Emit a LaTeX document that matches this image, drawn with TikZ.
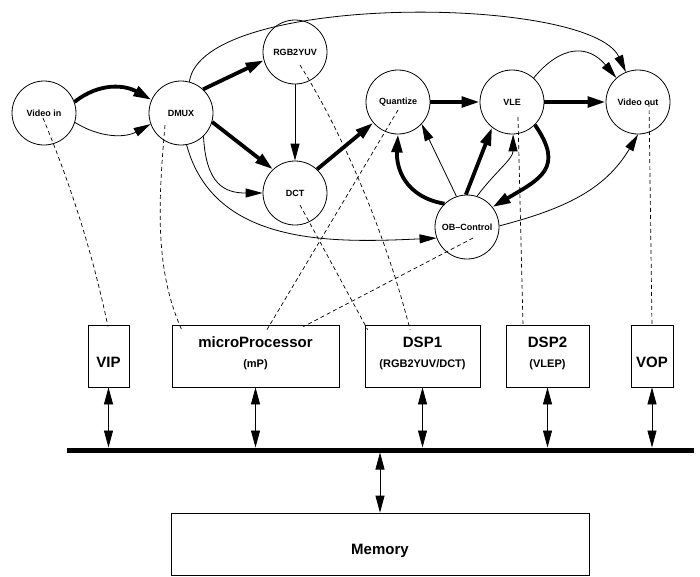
\documentclass[tikz,border=0pt]{standalone}
\usepackage{fontspec}
\setmainfont{Liberation Sans}
\usetikzlibrary{arrows.meta}
\begin{document}
\begin{tikzpicture}[x=1pt,y=-1pt,
  proc/.style={circle,draw,line width=0.8pt,minimum size=64pt,inner sep=0pt,font=\fontsize{9}{10}\selectfont\bfseries},
  hw/.style={draw,line width=0.8pt,minimum height=62pt,inner sep=0pt},
  big/.style={font=\fontsize{15}{17}\selectfont\bfseries,inner sep=0pt,anchor=base},
  small/.style={font=\fontsize{11}{13}\selectfont\bfseries,inner sep=0pt,anchor=base},
  thinarr/.style={line width=0.8pt,-{Triangle[length=17pt,width=9pt]}},
  thickarr/.style={line width=3.8pt,-{Triangle[length=18pt,width=10.5pt]}},
  mapline/.style={dash pattern=on 4pt off 3pt,line width=0.7pt},
  busarrow/.style={line width=0.8pt,{Triangle[length=17pt,width=9pt]}-{Triangle[length=17pt,width=9pt]}},
]
\useasboundingbox (0,0) rectangle (700,576);

% process nodes
\node[proc] (vin)   at (44,113)  {Video in};
\node[proc] (dmux)  at (181,113) {DMUX};
\node[proc] (rgb)   at (295,52)  {RGB2YUV};
\node[proc] (dct)   at (295,193) {DCT};
\node[proc] (quant) at (398,102) {Quantize};
\node[proc] (vle)   at (512,102) {VLE};
\node[proc] (vout)  at (638,102) {Video out};
\node[proc] (ob)    at (467,227) {OB--Control};

% hardware boxes
\node[hw,minimum width=41pt]  (vip)  at (108.5,356) {};
\node[hw,minimum width=167pt] (mp)   at (255.5,356) {};
\node[hw,minimum width=115pt] (dsp1) at (422.5,356) {};
\node[hw,minimum width=83pt]  (dsp2) at (547.5,356) {};
\node[hw,minimum width=42pt]  (vop)  at (652,356) {};
\node[hw,minimum width=418pt] (mem)  at (380,544) {};

\node[big]   (tvip)  at (108.5,367) {VIP};
\node[big]   (tmp)   at (255.5,347) {microProcessor};
\node[small] (tmp2)  at (255.5,367) {(mP)};
\node[big]   (tdsp1) at (422.5,347) {DSP1};
\node[small] (tdsp1b) at (422.5,367) {(RGB2YUV/DCT)};
\node[big]   (tdsp2) at (547.5,347) {DSP2};
\node[small] (tdsp2b) at (547.5,367) {(VLEP)};
\node[big]   (tvop)  at (652,367) {VOP};
\node[big]   (tmem)  at (380,554) {Memory};

% bus
\coordinate (busL) at (67,450);
\coordinate (busR) at (694,450);
\coordinate (busTop) at (0,447.5);
\coordinate (busBot) at (0,452.5);
\draw[line width=5pt] (busL) -- (busR);
\foreach \b in {vip,mp,dsp1,dsp2,vop}
  \draw[busarrow] (\b.south) -- (\b.south |- busTop);
\draw[busarrow] (mem.north |- busBot) -- (mem.north);

% data flow edges
\draw[thickarr] (vin.20) .. controls (100,82) and (125,85) .. (dmux.156);
\draw[thinarr]  (vin.-17) .. controls (100,138) and (125,138) .. (dmux.-160);
\draw[thickarr] (dmux.47) -- (rgb.195);
\draw[thickarr] (dmux.-16) -- (dct.133);
\draw[thinarr]  (dmux.-46) .. controls (206,185) and (225,193) .. (dct.180);
\draw[thinarr]  (dmux.-80) .. controls (214,246) and (332,243) .. (ob.200);
\draw[thinarr]  (dmux.75) .. controls (202,-8) and (590,-5) .. (vout.112);
\draw[thinarr]  (vle.48) .. controls (561,45) and (588,44) .. (vout.132);
\draw[thinarr]  (rgb) -- (dct);
\draw[thickarr] (dct.47) -- (quant.220);
\draw[thickarr] (quant) -- (vle);
\draw[thickarr] (vle) -- (vout);
\draw[thickarr] (ob.134) .. controls (405,197) and (396,168) .. (quant.-90);
\draw[thinarr]  (ob.109) -- (quant.-43);
\draw[thickarr] (ob.92) -- (vle.232);
\draw[thinarr]  (ob.72) .. controls (495,172) and (513,159) .. (vle.-88);
\draw[thickarr] (vle.-45) .. controls (565,168) and (540,179) .. (ob.38);
\draw[thinarr]  (ob.2) .. controls (564,209) and (605,190) .. (vout.-90);

% mapping (dashed)
\draw[mapline] ([xshift=-1pt,yshift=-5pt]vin.center) .. controls (72,188) and (93,255) .. ([xshift=-0.5pt,yshift=-2pt]vip.north);
\draw[mapline] ([xshift=-16pt,yshift=-12pt]dmux.center) .. controls (158,205) and (155,270) .. ([xshift=10pt,yshift=-5pt]mp.north west);
\draw[mapline] ([xshift=5pt,yshift=-13pt]rgb.center) .. controls (350,145) and (390,250) .. ([xshift=-12.5pt,yshift=-5pt]dsp1.north);
\draw[mapline] ([xshift=5pt,yshift=-12pt]dct.center) -- ([xshift=3pt,yshift=-5pt]dsp1.north west);
\draw[mapline] ([yshift=-8pt]quant.center) -- ([xshift=11.5pt,yshift=-5pt]mp.north);
\draw[mapline] ([xshift=6pt,yshift=-11pt]ob.center) -- ([xshift=-36pt,yshift=-2pt]mp.north east);
\draw[mapline] ([xshift=6pt,yshift=-15pt]vle.center) -- ([xshift=-24.5pt,yshift=-1pt]dsp2.north);
\draw[mapline] ([xshift=11pt,yshift=-1pt]vout.center) -- ([yshift=-2pt]vop.north);
\end{tikzpicture}
\end{document}
